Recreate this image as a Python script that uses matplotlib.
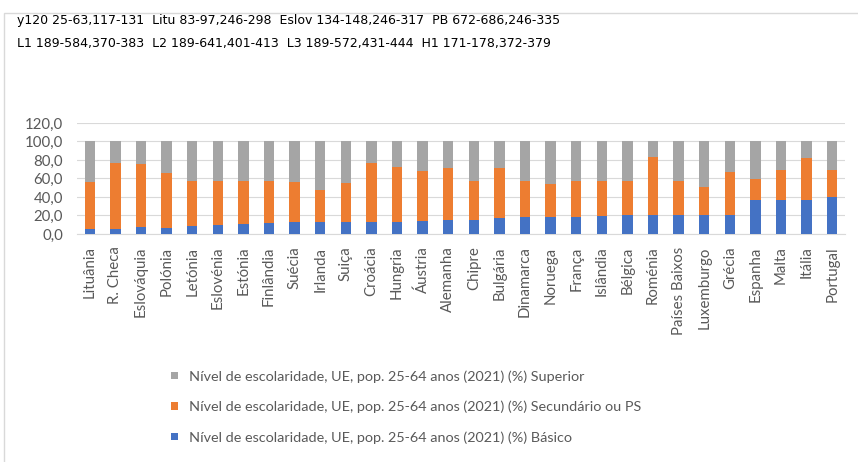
"""Nível de escolaridade na UE, população 25-64 anos (2021), barras empilhadas a 100%."""
import matplotlib
matplotlib.use("Agg")
import matplotlib.pyplot as plt
from matplotlib.patches import Rectangle

paises = [
    "Lituânia", "R. Checa", "Eslováquia", "Polónia", "Letónia", "Eslovénia",
    "Estónia", "Finlândia", "Suécia", "Irlanda", "Suiça", "Croácia", "Hungria",
    "Áustria", "Alemanha", "Chipre", "Bulgária", "Dinamarca", "Noruega",
    "França", "Islândia", "Bélgica", "Roménia", "Países Baixos", "Luxemburgo",
    "Grécia", "Espanha", "Malta", "Itália", "Portugal",
]
basico = [5.3, 5.8, 7.1, 6.6, 8.5, 9.8, 11.3, 11.5, 12.8, 13.0, 12.5, 12.9, 13.2,
          14.0, 15.3, 15.4, 17.5, 18.5, 18.0, 18.4, 19.0, 20.0, 20.5, 20.0, 20.3,
          21.0, 36.6, 37.0, 37.1, 40.2]
secundario = [51.4, 70.5, 68.4, 59.0, 49.0, 47.8, 46.3, 45.5, 43.9, 34.5, 42.8,
              63.4, 58.7, 54.3, 55.7, 41.6, 53.8, 38.5, 36.0, 39.0, 38.0, 37.0,
              62.5, 37.0, 30.5, 46.5, 22.5, 32.2, 44.9, 29.3]
superior = [43.3, 23.7, 24.5, 34.4, 42.5, 42.4, 42.4, 43.0, 43.3, 52.5, 44.7,
            23.7, 28.1, 31.7, 29.0, 43.0, 28.7, 43.0, 46.0, 42.6, 43.0, 43.0,
            17.0, 43.0, 49.2, 32.5, 40.9, 30.8, 18.0, 30.5]
yticks = [0, 20, 40, 60, 80, 100, 120]

prefixo = "Nível de escolaridade, UE, pop. 25-64 anos (2021) (%) "
AZUL, LARANJA, CINZA = "#4472C4", "#ED7D31", "#A5A5A5"
TEXTO = "#595959"

plt.rcParams["font.family"] = ["Lato", "DejaVu Sans"]

fig = plt.figure(figsize=(8.58, 4.62), dpi=100)
ax = fig.add_axes([77 / 858, 1 - 234 / 462, (845 - 77) / 858, (234 - 123) / 462])

x = range(len(paises))
b1 = ax.bar(x, basico, width=0.4, color=AZUL, zorder=3)
base2 = basico
b2 = ax.bar(x, secundario, width=0.4, bottom=base2, color=LARANJA, zorder=3)
base3 = [a + b for a, b in zip(basico, secundario)]
b3 = ax.bar(x, superior, width=0.4, bottom=base3, color=CINZA, zorder=3)

ax.set_xlim(-0.5, len(paises) - 0.5)
ax.set_ylim(0, 120)
ax.set_yticks(yticks)
ax.set_yticklabels([f"{v:.1f}".replace(".", ",") for v in yticks], fontsize=10.8, color=TEXTO)
ax.set_xticks(list(x))
ax.set_xticklabels(paises, rotation=90, fontsize=10.8, color=TEXTO)
ax.tick_params(length=0)
ax.tick_params(axis="y", pad=10)
ax.tick_params(axis="x", pad=9)
ax.grid(axis="y", color="#D9D9D9", linewidth=0.8, zorder=0)
for s in ["top", "right", "left"]:
    ax.spines[s].set_visible(False)
ax.spines["bottom"].set_color("#D9D9D9")

# legenda em ordem inversa, como no Excel
leg = fig.legend([b3, b2, b1],
           [prefixo + "Superior", prefixo + "Secundário ou PS", prefixo + "Básico"],
           loc="upper left", bbox_to_anchor=(158 / 858, 1 - 357 / 462),
           frameon=False, fontsize=10.4, labelcolor=TEXTO, labelspacing=1.25,
           handlelength=0.45, handleheight=0.45, handletextpad=0.8)

# moldura da área do gráfico
fig.patches.append(Rectangle((4 / 858, -0.1), 1.0, 1.1 - 13 / 462,
                             transform=fig.transFigure, fill=False,
                             edgecolor="#D9D9D9", linewidth=1))

# debug: medidas em pixels
fig.canvas.draw()
r = fig.canvas.get_renderer()
def bb(t):
    e = t.get_window_extent(r)
    return f"{e.x0:.0f}-{e.x1:.0f},{462 - e.y1:.0f}-{462 - e.y0:.0f}"
info = [
    "y120 " + bb(ax.get_yticklabels()[-1]),
    "Litu " + bb(ax.get_xticklabels()[0]),
    "Eslov " + bb(ax.get_xticklabels()[2]),
    "PB " + bb(ax.get_xticklabels()[23]),
    "L1 " + bb(leg.get_texts()[0]),
    "L2 " + bb(leg.get_texts()[1]),
    "L3 " + bb(leg.get_texts()[2]),
    "H1 " + bb(leg.legend_handles[0]),
]
fig.text(0.02, 0.97, "  ".join(info[:4]), fontsize=9, va="top", family="DejaVu Sans")
fig.text(0.02, 0.92, "  ".join(info[4:]), fontsize=9, va="top", family="DejaVu Sans")

fig.savefig("out.png", dpi=100)
